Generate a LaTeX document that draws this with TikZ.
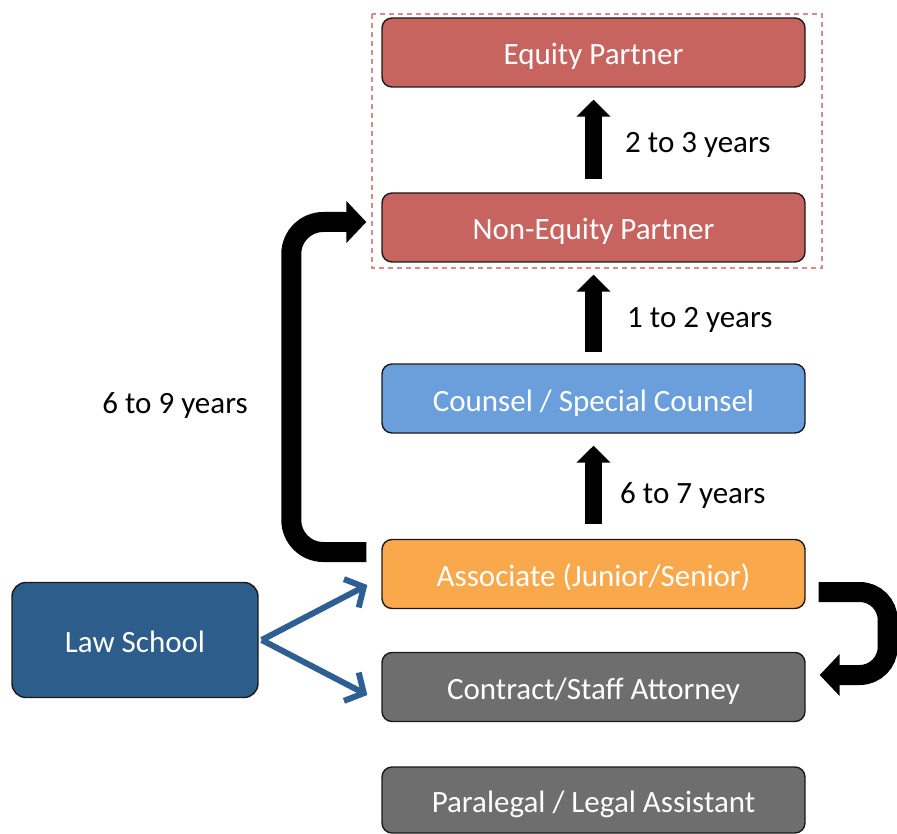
\documentclass[tikz,border=0pt]{standalone}
\usepackage{fontspec}
\setmainfont{Carlito}
\usetikzlibrary{arrows.meta}
\definecolor{redbox}{HTML}{C8645F}
\definecolor{bluebox}{HTML}{6A9FDB}
\definecolor{orangebox}{HTML}{F9A94B}
\definecolor{graybox}{HTML}{6E6E6E}
\definecolor{lawbox}{HTML}{2C5D8B}
\definecolor{dashcol}{HTML}{D98A8A}
\definecolor{bluearrow}{HTML}{2E5F92}
\definecolor{edgecol}{HTML}{1A1A1A}
\tikzset{
  box/.style={draw=edgecol, line width=1.4pt, rounded corners=10pt, minimum width=423pt, minimum height=69pt, text=white, font=\fontsize{31}{36}\selectfont, inner sep=0pt, text height=25pt, text depth=0pt},
  lbl/.style={font=\fontsize{31}{36}\selectfont, text=black, inner sep=0pt},
  uparrow/.style={line width=17pt, -{Triangle[width=33pt,length=17pt]}},
  bentarrow/.style={line width=20pt, -{Triangle[width=41pt,length=20pt]}},
  thinarrow/.style={draw=bluearrow, line width=6pt, -{Straight Barb[length=14pt,width=32pt]}}
}
\begin{document}
\begin{tikzpicture}[x=1pt,y=-1pt]
\useasboundingbox (0,0) rectangle (897,834);
\draw[dashcol, line width=1.2pt, dash pattern=on 5pt off 4pt] (372,14) rectangle (822,268);
\node[box, fill=redbox] (eq) at (593.5,52.5) {Equity Partner};
\node[box, fill=redbox] (neq) at (593.5,227.5) {Non-Equity Partner};
\node[box, fill=bluebox] (coun) at (593.5,398.5) {Counsel / Special Counsel};
\node[box, fill=orangebox] (assoc) at (593.5,574) {Associate (Junior/Senior)};
\node[box, fill=graybox] (contr) at (593.5,687) {Contract/Staff Attorney};
\node[box, fill=graybox, minimum height=66pt] (para) at (593.5,800) {Paralegal / Legal Assistant};
\node[box, fill=lawbox, minimum width=246pt, minimum height=115pt, rounded corners=14pt] (law) at (135,640) {Law School};

\draw[uparrow, shorten <=13pt, shorten >=12pt] (neq.north) -- (eq.south);
\draw[uparrow, shorten <=11pt, shorten >=12pt] (coun.north) -- (neq.south);
\draw[uparrow, shorten <=15pt, shorten >=12pt] (assoc.north) -- (coun.south);

\node[lbl, anchor=west] (l1) at (625,145) {2 to 3 years};
\node[lbl, anchor=west] (l2) at (627,320) {1 to 2 years};
\node[lbl, anchor=west] (l3) at (620,496) {6 to 7 years};
\node[lbl] (l4) at (175,406) {6 to 9 years};

\draw[bentarrow, rounded corners=32pt, shorten <=15pt, shorten >=15pt] ([yshift=22pt]assoc.west) -- ++(-90,0) |- ([yshift=5.5pt]neq.west);
\draw[bentarrow, rounded corners=28pt, shorten <=13pt, shorten >=14pt] ([yshift=-18pt]assoc.east) -- ++(82,0) |- ([yshift=12pt]contr.east);

\coordinate (a1) at ([shift={(-14,11)}]assoc.west);
\coordinate (a2) at ([shift={(-14,8)}]contr.west);
\draw[thinarrow] ([xshift=3pt]law.east) -- (a1);
\draw[thinarrow] ([xshift=3pt]law.east) -- (a2);
\end{tikzpicture}
\end{document}
